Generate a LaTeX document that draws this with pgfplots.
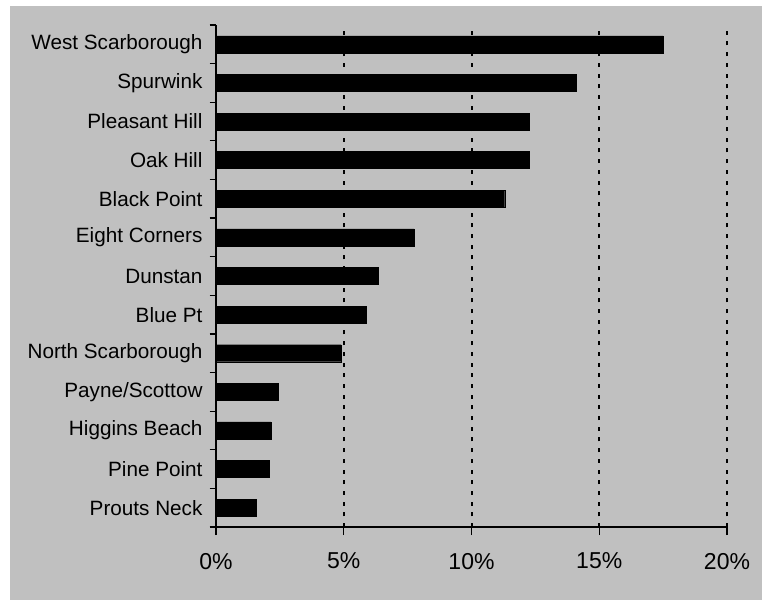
\documentclass[border=0pt]{standalone}
\usepackage{pgfplots}
\pgfplotsset{compat=1.18}
\usepackage{fontspec}
\setmainfont{Liberation Sans}
\definecolor{bg}{RGB}{192,192,192}
\begin{document}
\begin{tikzpicture}
\useasboundingbox (0,0) rectangle (762pt,600pt);
\fill[white] (0,0) rectangle (762pt,600pt);
\fill[bg] (10pt,0) rectangle (762pt,594pt);
\begin{axis}[
  at={(216pt,73pt)}, anchor=south west,
  scale only axis, width=511pt, height=502pt,
  xmin=0, xmax=20, ymin=-0.5, ymax=12.5,
  axis lines*=left,
  axis line style={line width=1.3pt, -},
  xtick={0,5,10,15,20},
  xticklabels={0\%,5\%,10\%,15\%,20\%},
  xmajorgrids,
  grid style={black, line width=2pt, dash pattern=on 4pt off 6.7pt},
  ytick={0,...,12},
  yticklabels={Prouts Neck,Pine Point,Higgins Beach,Payne/Scottow\hspace{5pt},North Scarborough,Blue Pt,Dunstan,Eight Corners,Black Point,Oak Hill,Pleasant Hill,Spurwink,West Scarborough},
  minor ytick={-0.5,0.5,...,12.5},
  tick align=outside,
  major tick length=8pt, minor tick length=6.5pt,
  major y tick style={draw=none},
  tick style={black, line width=1.3pt},
  yticklabel style={font=\fontsize{20.7}{24}\selectfont, xshift=-2pt},
  xticklabel style={font=\fontsize{23}{27}\selectfont, yshift=-14.5pt},
  xbar, bar width=17pt,
]
\addplot[fill=black, draw=black] coordinates {
(1.57,0) (2.07,1) (2.15,2) (2.43,3) (4.9,4) (5.87,5) (6.35,6) (7.75,7) (11.3,8) (12.25,9) (12.25,10) (14.1,11) (17.5,12)
};
\end{axis}
\end{tikzpicture}
\end{document}
